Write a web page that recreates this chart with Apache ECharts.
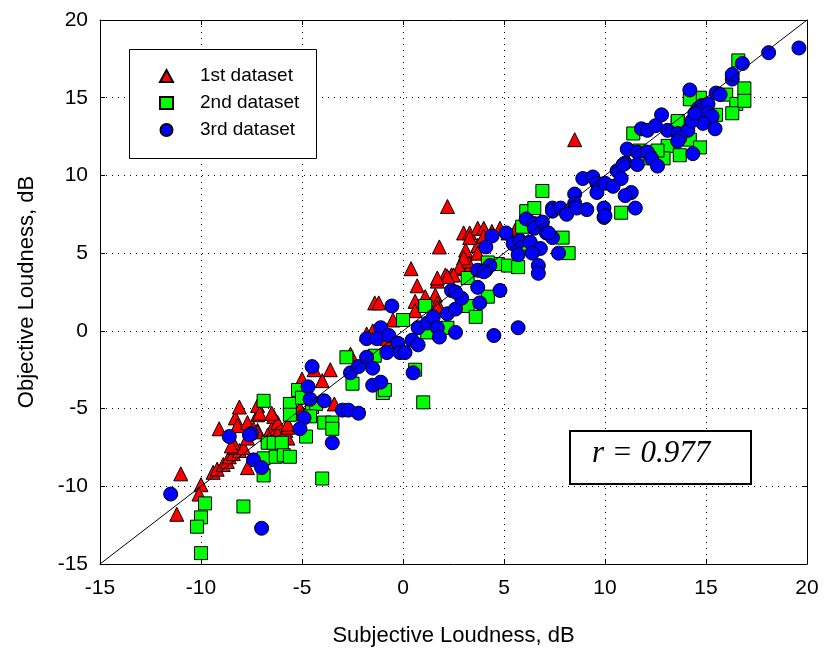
<!DOCTYPE html>
<html><head><meta charset="utf-8">
<script src="https://cdn.jsdelivr.net/npm/echarts/dist/echarts.min.js"></script>
<style>html,body{margin:0;padding:0;background:#fff}#c{width:825px;height:653px}</style>
</head><body><div id="c"></div>
<script>
const xTicks = [-15, -10, -5, 0, 5, 10, 15, 20];
const yTicks = [-15, -10, -5, 0, 5, 10, 15, 20];
const seriesNames = ['1st dataset', '2nd dataset', '3rd dataset'];
const diagLine = [[-15, -15], [20, 20]];
const rLabel = 'r = 0.977';

const dataset1 = [
  [-11.2,-11.8],[-11.0,-9.2],[-10.0,-9.9],[-10.1,-10.5],
  [-9.4,-9.1],[-9.2,-8.9],[-8.9,-8.6],[-8.7,-8.4],[-8.6,-8.1],[-8.4,-7.9],[-8.3,-7.5],[-8.1,-7.7],[-7.9,-7.5],[-7.7,-8.8],
  [-9.1,-6.3],[-8.3,-5.6],[-8.2,-6.1],[-8.1,-4.9],[-7.7,-5.9],[-7.2,-5.4],[-7.2,-4.8],
  [-7.7,-6.9],[-8.4,-7.2],[-7.2,-6.4],[-8.5,-7.4],[-7.4,-6.3],[-7.2,-6.5],[-6.5,-6.3],[-6.2,-6.6],[-5.8,-6.4],[-5.7,-6.9],[-6.7,-6.7],
  [-6.4,-5.5],[-6.2,-5.9],[-5.7,-6.2],[-7.1,-5.3],[-6.5,-5.3],[-5.7,-6.0],
  [-5.0,-3.1],[-4.0,-3.2],[-3.6,-2.5],[-4.4,-2.5],[-3.4,-4.7],[-5.5,-4.9],[-5.1,-5.0],[-2.6,-1.5],
  [-1.4,1.8],[-1.2,1.8],[-0.5,0.7],[-1.5,0.0],[-1.8,-0.2],[-0.8,-0.5],
  [0.4,4.0],[0.7,2.9],[0.6,1.9],[0.6,1.3],[1.1,2.2],[1.6,2.3],[1.7,1.8],[1.7,1.5],[2.1,3.6],[2.4,3.6],[1.7,3.2],[1.8,5.4],[2.2,8.0],
  [3.0,6.3],[3.3,6.3],[3.7,6.6],[4.0,6.6],[3.1,5.0],[3.0,4.4],[2.9,4.0],[3.3,4.1],[3.2,4.5],[3.7,5.5],[3.7,5.0],
  [3.3,6.0],[4.0,6.1],[4.4,6.4],[4.8,6.6],[5.6,6.6],[5.2,6.3],[3.1,5.2],[3.0,4.7],[2.8,4.1],[2.5,3.6],[2.2,3.5],[1.7,3.4],
  [8.5,12.3]
];

const dataset2 = [
  [-9.8,-11.1],[-10.0,-12.0],[-10.2,-12.6],[-10.0,-14.3],[-7.9,-11.3],
  [-6.9,-4.5],[-6.9,-8.2],[-6.9,-9.3],[-6.7,-7.2],
  [-5.6,-4.7],[-5.2,-3.8],[-5.0,-4.3],[-5.6,-5.4],[-4.5,-4.9],[-4.3,-4.7],[-4.6,-5.5],[-3.9,-5.9],[-3.5,-5.9],[-3.5,-6.3],[-4.8,-6.8],
  [-6.4,-7.2],[-6.0,-7.2],[-6.3,-8.1],[-5.9,-8.0],[-5.6,-8.1],
  [-4.0,-9.5],[-2.8,-1.7],[-2.5,-3.4],[-1.0,-4.0],[-1.4,-1.6],[-0.9,-3.8],
  [0.0,0.7],[1.1,1.6],[2.2,0.2],[1.2,-0.1],[3.2,3.4],[3.2,1.6],[3.6,0.9],[4.2,2.2],[0.6,-2.5],[1.0,-4.6],
  [4.7,4.3],[4.2,4.4],[5.2,4.2],[5.7,4.1],[6.9,9.0],[6.1,7.7],[6.5,7.9],[5.9,6.7],[7.9,6.0],[8.2,5.0],[6.2,5.6],[10.8,7.6],
  [11.4,12.7],[13.6,13.4],[14.2,12.3],[13.1,11.9],[13.7,11.3],[14.7,11.8],[12.9,11.1],[12.6,11.6],[12.2,11.1],[11.7,11.6],
  [14.7,15.0],[14.2,14.9],[16.0,15.2],[16.5,14.6],[16.3,14.0],[16.6,17.4],[16.9,15.6],[16.9,14.8],[15.5,13.9],[13.6,13.5]
];

const dataset3 = [
  [-11.5,-10.5],[-8.6,-6.8],[-7.5,-6.6],[-7.4,-8.3],[-7.0,-8.8],[-7.0,-12.7],
  [-4.5,-2.3],[-4.7,-3.6],[-4.6,-4.4],[-3.9,-4.5],[-4.9,-5.6],[-5.1,-6.3],[-7.6,-6.7],[-3.5,-7.2],[-3.0,-5.1],[-2.7,-5.1],[-2.2,-5.3],
  [-2.6,-2.7],[-2.2,-2.3],[-1.8,-0.5],[-1.8,-1.7],[-1.5,-2.4],[-1.5,-3.5],[-1.1,-3.3],
  [-0.55,1.6],[-1.1,0.2],[-1.3,-0.5],[-0.7,-0.3],[-0.8,-1.4],[-0.25,-0.8],[-0.15,-1.4],[0.1,-1.4],[0.45,-0.6],[0.75,-0.9],[0.75,0.2],
  [1.2,0.5],[1.5,0.9],[1.7,0.2],[1.8,-0.4],[2.6,-0.1],[2.2,1.1],[2.6,1.4],[2.9,2.1],[2.4,2.6],[2.6,2.5],[3.7,2.8],[3.8,1.8],
  [3.7,3.9],[4.1,3.9],[4.3,4.2],[4.1,5.4],[4.4,6.1],[4.5,-0.3],[5.7,0.2],[0.5,-2.7],[4.8,2.6],[4.0,3.8],
  [5.1,6.3],[5.45,5.6],[5.8,5.8],[6.3,5.7],[6.8,5.3],[6.4,5.0],[5.7,4.9],[7.7,5.0],[6.7,4.2],[6.7,3.7],
  [6.1,7.2],[6.5,6.9],[6.5,6.6],[6.9,7.0],[7.1,6.3],[7.4,6.0],[7.4,7.9],[7.4,7.7],[7.8,7.9],[8.1,7.5],[7.2,6.3],
  [8.5,8.8],[8.5,8.2],[8.6,7.9],[9.1,7.8],[9.95,7.9],[9.95,7.3],[8.9,9.8],[9.4,9.9],[9.6,9.5],[9.6,8.9],[10.0,9.5],[10.4,9.3],
  [10.6,10.3],[10.8,9.8],[11.0,10.8],[10.9,10.7],[11.1,11.7],[11.6,11.5],[12.1,11.5],[12.3,11.1],[12.6,10.6],[11.6,10.7],
  [11.3,8.9],[11.0,8.7],[11.5,7.9],[10.0,7.4],
  [11.8,13.0],[12.1,12.9],[12.5,13.2],[12.8,13.9],[13.1,12.9],[13.6,12.7],[14.1,12.9],[13.7,12.4],[13.6,12.2],[14.35,11.4],
  [14.6,14.3],[14.8,14.5],[15.1,14.6],[15.1,14.0],[15.3,13.8],[14.85,13.35],[15.45,13.0],[14.3,13.5],[14.45,14.0],
  [14.2,15.5],[15.5,15.3],[15.7,15.2],[16.3,16.2],[16.3,16.5],[16.8,17.2],[18.1,17.9],[19.6,18.2]
];

const FONT = 'Liberation Sans, Arial, sans-serif';
const chart = echarts.init(document.getElementById('c'), null, {renderer: 'canvas'});

function mainAxis(isX) {
  return {
    type: 'value', min: -15, max: 20, interval: 5,
    position: isX ? 'bottom' : 'left',
    name: isX ? 'Subjective Loudness, dB' : 'Objective Loudness, dB',
    nameLocation: 'middle',
    nameGap: isX ? 61 : 62,
    nameTextStyle: {fontSize: 22, color: '#000', fontFamily: FONT},
    axisLine: {show: true, onZero: false, lineStyle: {color: '#000', width: 1}},
    axisTick: {show: true, inside: true, length: 5, lineStyle: {color: '#000'}},
    axisLabel: {fontSize: 21, color: '#000', fontFamily: FONT, margin: isX ? 14 : 12,
      formatter: function (v) { return (isX ? xTicks : yTicks).indexOf(v) >= 0 ? String(v) : ''; }},
    splitLine: {show: true, lineStyle: {color: '#000', width: 1, type: [1, 5]}}
  };
}
function sideAxis(isX) {
  return {
    type: 'value', min: -15, max: 20, interval: 5,
    position: isX ? 'top' : 'right',
    axisLine: {show: true, onZero: false, lineStyle: {color: '#000', width: 1}},
    axisTick: {show: true, inside: true, length: 5, lineStyle: {color: '#000'}},
    axisLabel: {show: false},
    splitLine: {show: false}
  };
}

const markerStyle = c => ({color: c, borderColor: '#000', borderWidth: 1, opacity: 1});

chart.setOption({
  animation: false,
  backgroundColor: '#fff',
  grid: {left: 100, right: 18, top: 20, bottom: 89, containLabel: false},
  xAxis: [mainAxis(true), sideAxis(true)],
  yAxis: [mainAxis(false), sideAxis(false)],
  legend: {
    data: seriesNames,
    orient: 'vertical',
    left: 159, top: 65,
    z: 100,
    padding: 0,
    itemWidth: 13, itemHeight: 12,
    itemGap: 5,
    selectedMode: false,
    textStyle: {fontSize: 19, color: '#000', fontFamily: FONT, lineHeight: 22, padding: [0, 0, 0, 22]}
  },
  graphic: [
    {type: 'rect', left: 129, top: 49, z: 50, shape: {width: 187, height: 109},
      style: {fill: '#fff', stroke: '#000', lineWidth: 1}},
    {type: 'rect', left: 569, top: 430, z: 50, shape: {width: 181, height: 53},
      style: {fill: '#fff', stroke: '#000', lineWidth: 2}},
    {type: 'text', left: 592, top: 438, z: 51,
      style: {text: rLabel, font: 'italic 31px "Liberation Serif", "Times New Roman", serif', fill: '#000'}}
  ],
  series: [
    {name: seriesNames[0], type: 'scatter', data: dataset1, symbol: 'triangle', symbolSize: 14,
      itemStyle: markerStyle('#ff0000'), z: 2},
    {name: seriesNames[1], type: 'scatter', data: dataset2, symbol: 'rect', symbolSize: 13,
      itemStyle: markerStyle('#00ff00'), z: 3},
    {name: seriesNames[2], type: 'scatter', data: dataset3, symbol: 'circle', symbolSize: 14,
      itemStyle: markerStyle('#0000ff'), z: 4},
    {type: 'line', data: diagLine, symbol: 'none', silent: true, z: 5,
      lineStyle: {color: '#000', width: 1}}
  ]
});
</script>
</body></html>
